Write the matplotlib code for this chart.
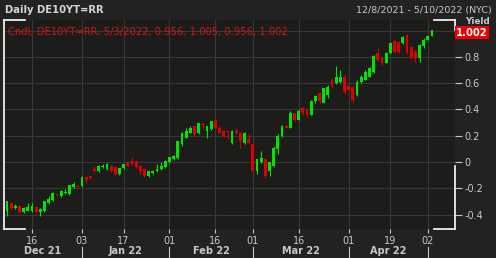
import matplotlib
matplotlib.use("Agg")
import matplotlib.pyplot as plt
from matplotlib.ticker import FuncFormatter
from matplotlib.transforms import blended_transform_factory
import numpy as np
import pandas as pd

opens = [-0.376, -0.315, -0.353, -0.335, -0.384, -0.370, -0.375, -0.346, -0.380, -0.376,
         -0.315, -0.293, -0.245, -0.262, -0.235, -0.247, -0.194, -0.183, -0.186, -0.118,
         -0.110, -0.050, -0.072, -0.036, -0.057, -0.034, -0.042, -0.095, -0.049, -0.004,
         0.011, 0.004, -0.034, -0.057, -0.110, -0.087, -0.072, -0.057, -0.042, -0.004,
         0.019, 0.027, 0.133, 0.186, 0.224, 0.270, 0.217, 0.290, 0.232, 0.247,
         0.323, 0.262, 0.232, 0.236, 0.148, 0.232, 0.224, 0.148, 0.171, 0.133,
         -0.072, -0.004, 0.019, -0.072, -0.034, 0.095, 0.194, 0.277, 0.262, 0.369,
         0.323, 0.407, 0.399, 0.361, 0.460, 0.521, 0.452, 0.513, 0.620, 0.604,
         0.612, 0.650, 0.581, 0.574, 0.513, 0.612, 0.627, 0.650, 0.688, 0.832,
         0.794, 0.756, 0.832, 0.923, 0.916, 0.908, 0.969, 0.878, 0.840, 0.794,
         0.885, 0.931, 0.956]
highs = [-0.295, -0.308, -0.322, -0.330, -0.345, -0.315, -0.310, -0.340, -0.350, -0.295,
         -0.260, -0.230, -0.240, -0.210, -0.205, -0.175, -0.150, -0.180, -0.110, -0.115,
         -0.105, -0.027, -0.020, -0.015, -0.010, -0.025, -0.035, -0.045, -0.015, 0.000,
         0.034, 0.010, -0.030, -0.050, -0.065, -0.060, -0.019, -0.004, 0.015, 0.040,
         0.050, 0.160, 0.230, 0.255, 0.270, 0.275, 0.300, 0.300, 0.275, 0.315,
         0.330, 0.270, 0.240, 0.245, 0.245, 0.262, 0.230, 0.230, 0.209, 0.140,
         0.025, 0.080, 0.025, 0.000, 0.120, 0.210, 0.280, 0.285, 0.385, 0.375,
         0.400, 0.415, 0.405, 0.470, 0.510, 0.530, 0.565, 0.585, 0.635, 0.733,
         0.700, 0.665, 0.590, 0.580, 0.620, 0.660, 0.700, 0.725, 0.815, 0.870,
         0.800, 0.840, 0.915, 0.930, 0.920, 0.962, 0.975, 0.885, 0.850, 0.900,
         0.940, 0.965, 1.005]
lows = [-0.414, -0.365, -0.360, -0.390, -0.390, -0.375, -0.380, -0.390, -0.410, -0.380,
        -0.320, -0.300, -0.260, -0.265, -0.245, -0.250, -0.200, -0.190, -0.190, -0.163,
        -0.130, -0.075, -0.075, -0.045, -0.060, -0.075, -0.100, -0.100, -0.055, -0.030,
        -0.022, -0.045, -0.095, -0.115, -0.115, -0.090, -0.075, -0.060, -0.045, -0.010,
        0.015, 0.020, 0.125, 0.180, 0.220, 0.200, 0.210, 0.247, 0.186, 0.240,
        0.255, 0.220, 0.190, 0.171, 0.140, 0.210, 0.110, 0.140, 0.140, -0.080,
        -0.090, -0.010, -0.120, -0.110, -0.040, 0.060, 0.190, 0.255, 0.255, 0.315,
        0.320, 0.360, 0.345, 0.355, 0.450, 0.445, 0.445, 0.490, 0.565, 0.595,
        0.600, 0.520, 0.545, 0.450, 0.505, 0.600, 0.620, 0.645, 0.680, 0.770,
        0.740, 0.750, 0.820, 0.830, 0.830, 0.900, 0.820, 0.785, 0.764, 0.764,
        0.870, 0.925, 0.956]
closes = [-0.300, -0.353, -0.338, -0.384, -0.353, -0.346, -0.335, -0.384, -0.355, -0.300,
          -0.285, -0.239, -0.253, -0.224, -0.228, -0.179, -0.171, -0.189, -0.118, -0.141,
          -0.125, -0.072, -0.027, -0.030, -0.019, -0.072, -0.095, -0.049, -0.019, -0.027,
          -0.019, -0.042, -0.072, -0.110, -0.072, -0.065, -0.057, -0.034, 0.011, 0.034,
          0.042, 0.156, 0.224, 0.232, 0.262, 0.209, 0.293, 0.280, 0.270, 0.308,
          0.262, 0.224, 0.194, 0.228, 0.239, 0.217, 0.163, 0.224, 0.148, -0.072,
          0.019, 0.027, -0.110, -0.004, 0.110, 0.201, 0.270, 0.262, 0.376, 0.323,
          0.391, 0.369, 0.361, 0.460, 0.505, 0.460, 0.559, 0.574, 0.580, 0.650,
          0.650, 0.536, 0.551, 0.475, 0.612, 0.650, 0.688, 0.718, 0.809, 0.779,
          0.756, 0.832, 0.908, 0.840, 0.840, 0.954, 0.832, 0.794, 0.794, 0.893,
          0.931, 0.961, 1.002]

holidays = ["2022-04-15", "2022-04-18"]
tick_days = ["2021-12-16", "2022-01-03", "2022-01-17", "2022-02-01", "2022-02-16",
             "2022-03-01", "2022-03-16", "2022-04-01", "2022-04-19", "2022-05-02"]
month_starts = ["2022-01-03", "2022-02-01", "2022-03-01", "2022-04-01", "2022-05-02"]
month_labels = ["Dec 21", "Jan 22", "Feb 22", "Mar 22", "Apr 22"]
y_ticks = [-0.4, -0.2, 0, 0.2, 0.4, 0.6, 0.8, 1.0]

title = "Daily DE10YT=RR"
date_range = "12/8/2021 - 5/10/2022 (NYC)"
legend_text = "Cndl, DE10YT=RR, 5/3/2022, 0.956, 1.005, 0.956, 1.002"
last_value = "1.002"

GREEN = "#00e400"
RED = "#dc0000"
TXT = "#c8c8c8"
GRID = "#383838"

days = pd.bdate_range("2021-12-08", "2022-05-03")
days = days[~days.isin(pd.to_datetime(holidays))]
pos = {d.strftime("%Y-%m-%d"): i for i, d in enumerate(days)}

O = np.array(opens); H = np.array(highs); L = np.array(lows); C = np.array(closes)
x = np.arange(len(days))
colors = np.where(C >= O, GREEN, RED)

plt.rcParams['axes.unicode_minus'] = False
fig = plt.figure(figsize=(4.96, 2.58), dpi=100, facecolor="#222222")
W, Hpx = 496, 258
ax = fig.add_axes([4 / W, 1 - 229 / Hpx, 451 / W, 209 / Hpx], facecolor="#1c1c1a")

ax.vlines(x, L, H, colors=colors, linewidth=0.8, zorder=3)
# bodies: tiny minimum height so doji candles still show
body = np.maximum(np.abs(C - O), 0.008)
ax.bar(x, body, bottom=np.minimum(O, C), width=0.68, color=colors,
       linewidth=0, zorder=4)

ax.set_xlim(-0.7, 107.5)
ax.set_ylim(-0.51, 1.08)

# y axis on the right
ax.yaxis.tick_right()
ax.set_yticks(y_ticks)
ax.yaxis.set_major_formatter(FuncFormatter(lambda v, p: "" if v > 0.9 else f"{v:g}"))
ax.tick_params(axis="y", colors=TXT, labelsize=7, length=5, width=0.8, pad=2)

# x axis day ticks
xt = [pos[d] for d in tick_days]
ax.set_xticks(xt)
ax.set_xticklabels([pd.Timestamp(d).strftime("%d") for d in tick_days])
ax.tick_params(axis="x", colors=TXT, labelsize=7, length=3, width=0.8, pad=2)

ax.grid(True, color=GRID, linewidth=0.8, zorder=0)
for s in ax.spines.values():
    s.set_visible(False)

# white corner marks / left edge
wk = dict(color="white", linewidth=1.2, transform=ax.transAxes, clip_on=False, zorder=6)
ax.plot([0, 0], [0, 1], **wk)
ax.plot([0, 21 / 451], [1, 1], **wk)
ax.plot([0, 21 / 451], [0, 0], **wk)
ax.plot([430 / 451, 1], [1, 1], **wk)
ax.plot([430 / 451, 1], [0, 0], **wk)
ax.plot([1, 1], [0, 0.3], **wk)
ax.plot([1, 1], [0.95, 1], **wk)

# month separators and labels
tr = blended_transform_factory(ax.transData, ax.transAxes)
ms = [pos[d] for d in month_starts]
for m in ms:
    ax.plot([m, m], [-0.085, -0.14], color=TXT, linewidth=0.8, transform=tr, clip_on=False)
edges = [-0.7] + ms
for lab, a, b in zip(month_labels, edges[:-1], edges[1:]):
    ax.text((a + b) / 2, -0.105, lab, transform=tr, ha="center", va="center",
            fontsize=7, fontweight="bold", color=TXT)

# header texts
fig.text(5 / W, 1 - 10 / Hpx, title, fontsize=7.2, fontweight="bold", color="#d4d4d4",
         ha="left", va="center")
fig.text(492 / W, 1 - 10 / Hpx, date_range, fontsize=6.8, color=TXT, ha="right", va="center")
fig.text(8 / W, 1 - 31.5 / Hpx, legend_text, fontsize=7.2, color="#d41414",
         ha="left", va="center", zorder=7)

# "Yield" label and last-value box
fig.text(477 / W, 1 - 22 / Hpx, "Yield", fontsize=6.3, fontweight="bold", color=TXT,
         ha="center", va="center")
fig.text(456 / W, 1 - 32.5 / Hpx, last_value, fontsize=7.2, fontweight="bold",
         color="white", ha="left", va="center", zorder=8,
         bbox=dict(boxstyle="square,pad=0.12", facecolor="#ee0000", edgecolor="none"))

fig.savefig("out.png", dpi=100, facecolor=fig.get_facecolor())
